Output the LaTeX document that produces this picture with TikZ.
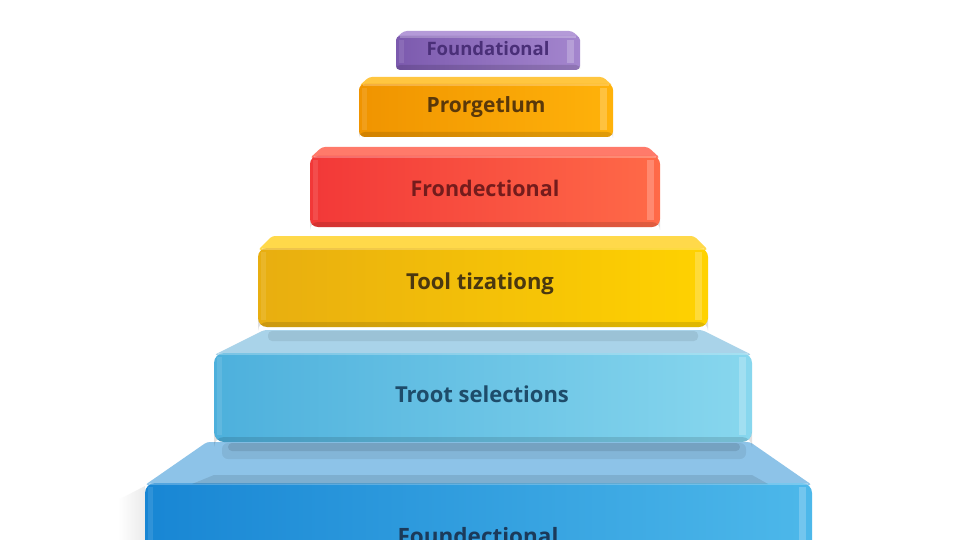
\documentclass[tikz,border=0pt]{standalone}
\usepackage{fontspec}
\setmainfont{Open Sans}
\usetikzlibrary{fadings}
\definecolor{pTop}{HTML}{B49AD8}\definecolor{pL}{HTML}{7C5AAE}\definecolor{pR}{HTML}{A486CE}\definecolor{pT}{HTML}{4A2F78}
\definecolor{oTop}{HTML}{FFC640}\definecolor{oL}{HTML}{F09400}\definecolor{oR}{HTML}{FFB20A}\definecolor{oT}{HTML}{5A380A}
\definecolor{rTop}{HTML}{FF7A6A}\definecolor{rL}{HTML}{F23838}\definecolor{rR}{HTML}{FF6A48}\definecolor{rT}{HTML}{741C1C}
\definecolor{yTop}{HTML}{FFD94A}\definecolor{yL}{HTML}{E8AE10}\definecolor{yR}{HTML}{FFD200}\definecolor{yT}{HTML}{4A3810}
\definecolor{lTop}{HTML}{A9D3E9}\definecolor{lL}{HTML}{4DB0DC}\definecolor{lR}{HTML}{88D7EE}\definecolor{lT}{HTML}{1E4C6A}
\definecolor{bTop}{HTML}{8DC3E8}\definecolor{bL}{HTML}{1886D4}\definecolor{bR}{HTML}{4DB8EA}\definecolor{bT}{HTML}{1B3A5A}
% #1 a, #2 b, #3 ytop, #4 yfront, #5 ybottom, #6 inset, #7 prefix, #8 radius
\newcommand\myslab[8]{%
  \fill[#7Top, rounded corners=3pt] (#1+#6,#3) -- (#2-#6,#3) -- (#2,#4+2) -- (#1,#4+2) -- cycle;
  \shade[left color=#7L, right color=#7R, rounded corners=#8pt]
    (#1,#4) -- (#2,#4) -- (#2,#5) -- (#1,#5) -- cycle;
  \fill[black,opacity=0.12,rounded corners=#8pt]
    (#1,#5-5) -- (#2,#5-5) -- (#2,#5) -- (#1,#5) -- cycle;
  \fill[white,opacity=0.22] (#2-13,#4+4) rectangle (#2-6,#5-7);
  \fill[white,opacity=0.10] (#1+3,#4+4) rectangle (#1+8,#5-7);
  \fill[white,opacity=0.25] (#1+4,#4) rectangle (#2-4,#4+2);
}
\tikzset{lbl/.style={inner sep=0pt}}
\begin{document}
\begin{tikzpicture}[x=1pt,y=-1pt]
\useasboundingbox (0,0) rectangle (960,540);
\clip (0,0) rectangle (960,540);
\fill[white] (0,0) rectangle (960,540);
% soft shadow left of base
\shade[left color=white, right color=black!8] (118,500) -- (145,486) -- (145,540) -- (118,540) -- cycle;
% slab 6 (blue base)
\myslab{145}{812}{442}{483}{560}{62}{b}{10}
\fill[black,opacity=0.10] (214,475) -- (752,475) -- (768,484) -- (192,484) -- cycle;
\fill[black,opacity=0.10,rounded corners=4pt] (228,443) rectangle (740,451);
\fill[black,opacity=0.07,rounded corners=6pt] (222,443) rectangle (746,459);
% slab 5
\myslab{214}{752}{330}{353}{442}{50}{l}{10}
\fill[black,opacity=0.08,rounded corners=4pt] (268,331) rectangle (698,341);
% slab 4
\myslab{258}{708}{236}{248}{327}{14}{y}{9}
% slab 3
\myslab{310}{660}{147}{156}{227}{12}{r}{8}
% slab 2
\myslab{359}{613}{77}{84}{137}{10}{o}{6}
% slab 1
\myslab{396}{580}{31}{36}{70}{8}{p}{4}
% labels
\node[lbl, text=pT, font=\bfseries\fontsize{18.5}{20}\selectfont] (t1) at (488,49) {Foundational};
\node[lbl, text=oT, font=\bfseries\fontsize{21}{23}\selectfont] (t2) at (486,107) {Prorgetlum};
\node[lbl, text=rT, font=\bfseries\fontsize{21.5}{23}\selectfont] (t3) at (485,188) {Frondectional};
\node[lbl, text=yT, font=\bfseries\fontsize{22}{24}\selectfont] (t4) at (480,284) {Tool tizationg};
\node[lbl, text=lT, font=\bfseries\fontsize{22}{24}\selectfont] (t5) at (482,394) {Troot selections};
\node[lbl, text=bT, font=\bfseries\fontsize{22.5}{24}\selectfont, anchor=north] (t6) at (478,527) {Foundectional};
\end{tikzpicture}
\end{document}
